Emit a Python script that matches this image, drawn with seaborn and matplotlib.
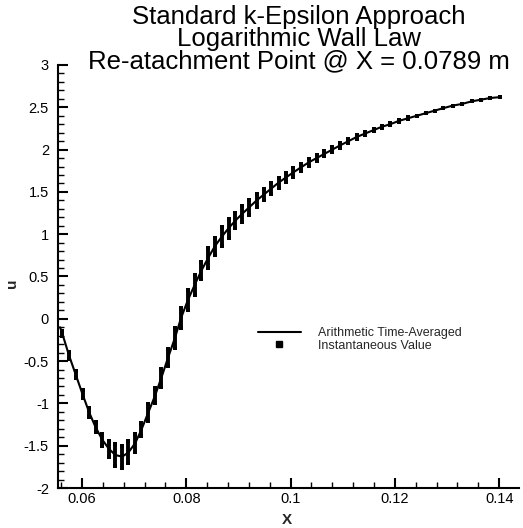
import matplotlib
matplotlib.use("Agg")
import matplotlib.pyplot as plt
from matplotlib.lines import Line2D
from matplotlib.ticker import MultipleLocator, FixedLocator, FuncFormatter
import seaborn as sns
import pandas as pd

# ---- data ----
x_pos = [0.0562, 0.0575, 0.0588, 0.0601, 0.0614, 0.0626, 0.0639, 0.0652, 0.0664, 0.0677,
         0.0689, 0.0702, 0.0714, 0.0727, 0.0740, 0.0752, 0.0765, 0.0778, 0.0790, 0.0803,
         0.0816, 0.0829, 0.0842, 0.0855, 0.0868, 0.0881, 0.0894, 0.0907, 0.0921, 0.0935,
         0.0949, 0.0963, 0.0977, 0.0991, 0.1005, 0.1020, 0.1035, 0.1050, 0.1065, 0.1080,
         0.1095, 0.1111, 0.1127, 0.1143, 0.1159, 0.1175, 0.1191, 0.1208, 0.1225, 0.1242,
         0.1259, 0.1276, 0.1293, 0.1311, 0.1329, 0.1347, 0.1365, 0.1383, 0.1401]
u_mean = [-0.17, -0.43, -0.66, -0.89, -1.11, -1.28, -1.43, -1.54, -1.61, -1.63,
          -1.58, -1.47, -1.31, -1.11, -0.91, -0.70, -0.46, -0.23, 0.01, 0.22,
          0.40, 0.57, 0.72, 0.86, 0.97, 1.07, 1.16, 1.24, 1.32, 1.40,
          1.47, 1.54, 1.61, 1.67, 1.73, 1.79, 1.85, 1.90, 1.95, 2.00,
          2.05, 2.10, 2.15, 2.19, 2.23, 2.27, 2.30, 2.34, 2.37, 2.40,
          2.43, 2.46, 2.49, 2.52, 2.54, 2.57, 2.59, 2.61, 2.62]
# half range of the instantaneous values at each station
u_spread = [0.03, 0.04, 0.04, 0.05, 0.05, 0.06, 0.07, 0.09, 0.13, 0.13,
            0.13, 0.11, 0.08, 0.10, 0.09, 0.11, 0.10, 0.12, 0.12, 0.12,
            0.12, 0.10, 0.12, 0.10, 0.11, 0.11, 0.09, 0.09, 0.09, 0.08,
            0.07, 0.06, 0.06, 0.05, 0.05, 0.04, 0.04, 0.04, 0.03, 0.03,
            0.03, 0.02, 0.02, 0.015, 0.015, 0.01, 0.01, 0.01, 0.01, 0.0,
            0.0, 0.0, 0.0, 0.0, 0.0, 0.0, 0.0, 0.0, 0.0]
line_start_x = 0.0558
line_start_u = -0.10

title_lines = ["Standard k-Epsilon Approach", "Logarithmic Wall Law",
               "Re-atachment Point @ X = 0.0789 m"]
legend_labels = ["Arithmetic Time-Averaged", "Instantaneous Value"]
x_ticks = [0.06, 0.08, 0.10, 0.12, 0.14]
y_ticks = [-2, -1.5, -1, -0.5, 0, 0.5, 1, 1.5, 2, 2.5, 3]

sns.set_style("white")
plt.rcParams["font.family"] = ["Liberation Sans", "DejaVu Sans"]

line_df = pd.DataFrame({"X": [line_start_x] + x_pos, "u": [line_start_u] + u_mean})
inst_df = pd.DataFrame({"X": x_pos,
                        "lo": [m - s for m, s in zip(u_mean, u_spread)],
                        "hi": [m + s for m, s in zip(u_mean, u_spread)],
                        "u": u_mean})

W, H = 523, 528
fig = plt.figure(figsize=(W / 100, H / 100), dpi=100)
ax = fig.add_axes([58 / W, 40 / H, 461 / W, 423 / H])

ax.vlines(inst_df["X"], inst_df["lo"], inst_df["hi"], color="black", linewidth=2.8, zorder=3)
sns.scatterplot(data=inst_df, x="X", y="lo", marker="s", s=8, color="black",
                linewidth=0, ax=ax, zorder=3)
sns.scatterplot(data=inst_df, x="X", y="hi", marker="s", s=8, color="black",
                linewidth=0, ax=ax, zorder=3)
sns.lineplot(data=line_df, x="X", y="u", color="black", linewidth=1.5, ax=ax,
             sort=False, zorder=4)

ax.set_xlim(0.0554, 0.1438)
ax.set_ylim(-2, 3)

ax.xaxis.set_major_locator(FixedLocator(x_ticks))
ax.xaxis.set_minor_locator(MultipleLocator(0.004))
ax.yaxis.set_major_locator(FixedLocator(y_ticks))
ax.yaxis.set_minor_locator(MultipleLocator(0.1))
fmt = FuncFormatter(lambda v, p: "%g" % round(v, 6))
ax.xaxis.set_major_formatter(fmt)
ax.yaxis.set_major_formatter(fmt)

ax.tick_params(which="both", bottom=True, left=True, top=False, right=False)
ax.tick_params(which="major", direction="in", length=7.5, width=1.5, labelsize=10.5,
               color="black", labelcolor="black")
ax.tick_params(which="minor", direction="in", length=4, width=1.0, color="black")
ax.tick_params(axis="x", which="major", pad=3)
ax.tick_params(axis="y", which="major", pad=6.5)

for side in ["top", "right"]:
    ax.spines[side].set_visible(False)
for side in ["left", "bottom"]:
    ax.spines[side].set_linewidth(1.5)
    ax.spines[side].set_color("black")

ax.set_xlabel("X", fontsize=11, fontweight="bold", labelpad=0)
ax.xaxis.set_label_coords(0.497, -0.058)
ax.set_ylabel("u", fontsize=11, fontweight="bold")
ax.yaxis.set_label_coords(-0.085, 0.485)

handles = [Line2D([], [], color="black", linewidth=1.5),
           Line2D([], [], color="black", linestyle="none", marker="s", markersize=5)]
leg = ax.legend(handles, legend_labels, loc="upper left", frameon=False,
                bbox_to_anchor=(258 / W, 1 - 327 / H), bbox_transform=fig.transFigure,
                borderpad=0, borderaxespad=0, fontsize=9, handlelength=3.4,
                handletextpad=1.4, labelspacing=0.05)

fig.text(299 / W, 1 - 68 / H, "\n".join(title_lines), ha="center", va="baseline",
         multialignment="center", fontsize=18.5, linespacing=0.89, color="black")

fig.savefig("out.png", dpi=100)
